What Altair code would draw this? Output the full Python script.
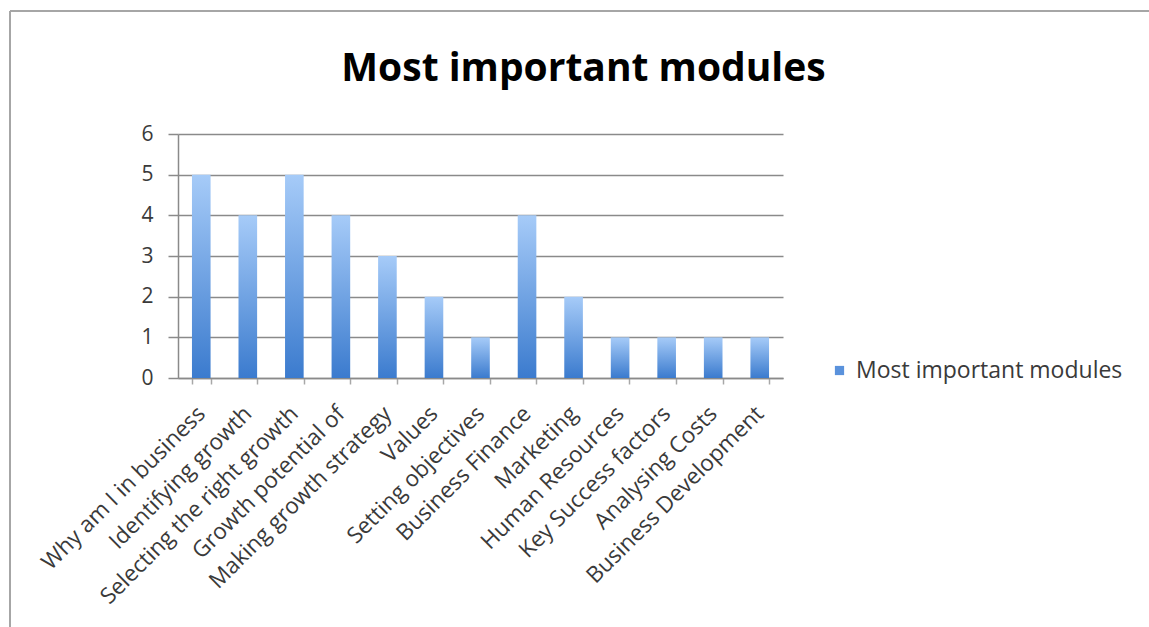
import altair as alt
import pandas as pd

# Survey tallies: how many respondents named each module as most important
modules = [
    "Why am I in business",
    "Identifying growth",
    "Selecting the right growth",
    "Growth potential of",
    "Making growth strategy",
    "Values",
    "Setting objectives",
    "Business Finance",
    "Marketing",
    "Human Resources",
    "Key Success factors",
    "Analysing Costs",
    "Business Development",
]
votes = [5, 4, 5, 4, 3, 2, 1, 4, 2, 1, 1, 1, 1]
series_name = "Most important modules"
y_ticks = [0, 1, 2, 3, 4, 5, 6]

df = pd.DataFrame({"module": modules, "votes": votes, "series": series_name})

# plot area size and its offset inside the 1149x627 page
W, H = 605, 244
LEFT, TOP = 178, 134
FONT = "Open Sans"
GRID = "#8a8a8a"
TICK = "#a8a8a8"
TEXT = "#3a3a3a"

bar_fill = alt.Gradient(
    gradient="linear",
    stops=[
        alt.GradientStop(color="#a6cbf8", offset=0),
        alt.GradientStop(color="#3b7bce", offset=1),
    ],
    x1=0, x2=0, y1=0, y2=1,
)

x_enc = alt.X(
    "module:N",
    sort=modules,
    title=None,
    scale=alt.Scale(paddingInner=0.6, paddingOuter=0.3),
    axis=alt.Axis(
        labelAngle=-45,
        labelAlign="right",
        labelBaseline="top",
        labelFontSize=22.5,
        labelFont=FONT,
        labelColor=TEXT,
        labelPadding=18,
        labelOffset=-8,
        labelLimit=400,
        tickBand="extent",
        tickSize=6,
        tickColor=TICK,
        tickWidth=1.5,
        domainColor=GRID,
        domainWidth=1.5,
        grid=False,
    ),
)
y_enc = alt.Y(
    "votes:Q",
    title=None,
    scale=alt.Scale(domain=[0, 6], nice=False),
    axis=alt.Axis(
        values=y_ticks,
        format="d",
        labelFontSize=21,
        labelFont=FONT,
        labelColor=TEXT,
        labelPadding=15,
        tickSize=10,
        tickColor=GRID,
        tickWidth=1.5,
        domainColor=GRID,
        domainWidth=1.5,
        grid=True,
        gridColor=GRID,
        gridWidth=1.5,
    ),
)

bars = alt.Chart(df).mark_bar(fill=bar_fill).encode(x=x_enc, y=y_enc)

# zero-size points carry the series colour so Vega builds the legend
legend_layer = alt.Chart(df).mark_square(size=0, opacity=1).encode(
    x=alt.X("module:N", sort=modules),
    y=alt.Y("votes:Q"),
    color=alt.Color(
        "series:N",
        scale=alt.Scale(range=["#5a92dc"]),
        legend=alt.Legend(
            title=None,
            orient="none",
            legendX=650,
            legendY=225,
            symbolType="square",
            symbolSize=85,
            symbolStrokeWidth=0,
            labelFontSize=23,
            labelFont=FONT,
            labelColor=TEXT,
            labelOffset=5,
            labelLimit=400,
        ),
    ),
)

# chart frame: top and left edges
frame_top = alt.Chart(df.head(1)).mark_rule(color="#a6a6a6", strokeWidth=2).encode(
    x=alt.value(10 - LEFT), x2=alt.value(1149 - LEFT + 5), y=alt.value(11 - TOP)
)
frame_left = alt.Chart(df.head(1)).mark_rule(color="#a6a6a6", strokeWidth=2).encode(
    x=alt.value(10 - LEFT), y=alt.value(11 - TOP), y2=alt.value(627 - TOP + 5)
)

chart = (
    alt.layer(frame_top, frame_left, bars, legend_layer)
    .properties(
        width=W,
        height=H,
        autosize=alt.AutoSizeParams(type="none"),
        padding={
            "left": LEFT,
            "top": TOP,
            "right": 1149 - LEFT - W,
            "bottom": 627 - TOP - H,
        },
        title=alt.Title(
            series_name,
            anchor="middle",
            frame="group",
            dx=103,
            offset=-79,
            fontSize=39,
            font=FONT,
            fontWeight="bold",
            color="#000000",
        ),
    )
    .configure_view(stroke=None)
)

chart.save("out.html", embed_options={"renderer": "svg", "actions": False})
